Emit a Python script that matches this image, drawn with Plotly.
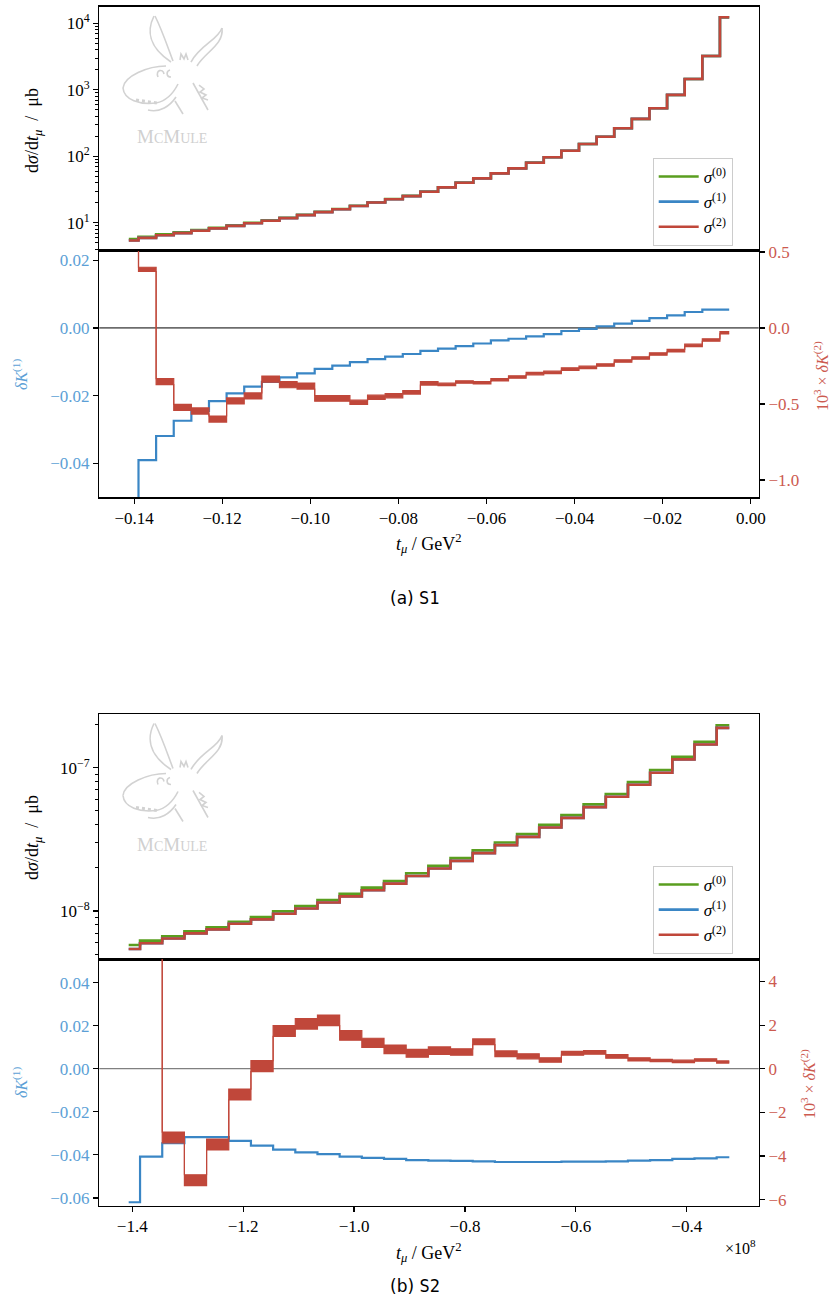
import plotly.graph_objects as go

W, H = 830, 1315

GREEN = "#5a9e1f"
BLUE = "#3a86c5"
RED = "#c0473a"
BLUE_TXT = "#5c9fd6"
RED_TXT = "#cc5a4f"
SERIF = "'Liberation Serif', 'DejaVu Serif', serif"
SANS = "'DejaVu Sans', 'Noto Sans', sans-serif"

# ---------------- (a) S1 ----------------
edges_a = [-0.1412, -0.139, -0.135, -0.131, -0.127, -0.123, -0.119, -0.115, -0.111,
           -0.107, -0.103, -0.099, -0.095, -0.091, -0.087, -0.083, -0.079, -0.075,
           -0.071, -0.067, -0.063, -0.059, -0.055, -0.051, -0.047, -0.043, -0.039,
           -0.035, -0.031, -0.027, -0.023, -0.019, -0.015, -0.011, -0.007, -0.0049]
sig0_a = [5.7, 6.16, 6.68, 7.16, 7.76, 8.41, 9.14, 10.0, 10.9, 11.9, 13.2, 14.6, 16.1,
          18.0, 20.3, 22.7, 25.3, 29.4, 34.2, 40.1, 46.6, 55.5, 66.0, 80.2, 96.6, 121,
          153, 197, 264, 364, 527, 836, 1452, 3222, 12300]
sig1_a = [5.4, 5.92, 6.47, 6.97, 7.57, 8.23, 8.97, 9.83, 10.73, 11.72, 13.03, 14.42, 15.92,
          17.82, 20.12, 22.51, 25.1, 29.2, 34.0, 39.9, 46.4, 55.3, 65.8, 80.0, 96.5, 120.9,
          153, 197, 264, 365, 528, 838, 1456, 3230, 12330]
sig2_a = [5.4, 5.92, 6.47, 6.97, 7.57, 8.23, 8.97, 9.83, 10.73, 11.72, 13.03, 14.42, 15.92,
          17.82, 20.12, 22.51, 25.1, 29.2, 34.0, 39.9, 46.4, 55.3, 65.8, 80.0, 96.5, 120.9,
          153, 197, 264, 365, 528, 838, 1456, 3230, 12330]
dK1_a = [-0.058, -0.0390, -0.0319, -0.0274, -0.0245, -0.0216, -0.0193, -0.0173, -0.0159,
         -0.0146, -0.0134, -0.0121, -0.0111, -0.0101, -0.0092, -0.0085, -0.0077, -0.0068,
         -0.0061, -0.0054, -0.0046, -0.0037, -0.0032, -0.0025, -0.0018, -0.0009, -0.0003,
         0.0005, 0.0013, 0.0021, 0.0029, 0.0037, 0.0047, 0.0054, 0.0054]
dK2_a = [0.8, 0.386, -0.353, -0.522, -0.546, -0.599, -0.480, -0.447, -0.336, -0.373,
         -0.382, -0.463, -0.463, -0.489, -0.456, -0.445, -0.423, -0.364, -0.371, -0.355,
         -0.360, -0.340, -0.322, -0.300, -0.292, -0.270, -0.259, -0.243, -0.217, -0.197,
         -0.171, -0.149, -0.114, -0.079, -0.031]
dK2err_a = [0.02, 0.014, 0.02, 0.02, 0.02, 0.02, 0.02, 0.02, 0.02, 0.02, 0.02, 0.019,
            0.019, 0.014, 0.014, 0.014, 0.0115, 0.0115, 0.008, 0.008, 0.008, 0.008, 0.008,
            0.008, 0.008, 0.008, 0.008, 0.008, 0.008, 0.008, 0.008, 0.008, 0.008, 0.008, 0.008]

# ---------------- (b) S2 (t in units of 1e8 GeV^2) ----------------
edges_b = [-1.4065, -1.386, -1.346, -1.306, -1.266, -1.226, -1.186, -1.146, -1.106, -1.066,
           -1.026, -0.986, -0.946, -0.906, -0.866, -0.826, -0.786, -0.746, -0.706, -0.666,
           -0.626, -0.586, -0.546, -0.506, -0.466, -0.426, -0.386, -0.346, -0.3232]
sig0_b = [5.79e-9, 6.21e-9, 6.66e-9, 7.21e-9, 7.69e-9, 8.42e-9, 9.07e-9, 9.95e-9, 1.084e-8,
          1.194e-8, 1.32e-8, 1.456e-8, 1.62e-8, 1.833e-8, 2.07e-8, 2.34e-8, 2.65e-8, 3.01e-8,
          3.44e-8, 4.00e-8, 4.67e-8, 5.55e-8, 6.55e-8, 7.94e-8, 9.64e-8, 1.194e-7, 1.518e-7,
          1.977e-7]
sig1_b = [5.43e-9, 5.96e-9, 6.43e-9, 6.98e-9, 7.44e-9, 8.14e-9, 8.74e-9, 9.57e-9, 1.042e-8,
          1.146e-8, 1.266e-8, 1.396e-8, 1.552e-8, 1.756e-8, 1.981e-8, 2.239e-8, 2.536e-8,
          2.881e-8, 3.292e-8, 3.828e-8, 4.469e-8, 5.311e-8, 6.268e-8, 7.599e-8, 9.235e-8,
          1.144e-7, 1.454e-7, 1.896e-7]
sig2_b = [5.43e-9, 5.96e-9, 6.43e-9, 6.98e-9, 7.44e-9, 8.14e-9, 8.74e-9, 9.57e-9, 1.042e-8,
          1.146e-8, 1.266e-8, 1.396e-8, 1.552e-8, 1.756e-8, 1.981e-8, 2.239e-8, 2.536e-8,
          2.881e-8, 3.292e-8, 3.828e-8, 4.469e-8, 5.311e-8, 6.268e-8, 7.599e-8, 9.235e-8,
          1.144e-7, 1.454e-7, 1.896e-7]
dK1_b = [-0.0620, -0.0408, -0.0346, -0.0318, -0.0318, -0.0335, -0.0357, -0.0376, -0.0388,
         -0.0397, -0.0408, -0.0414, -0.0419, -0.0424, -0.0427, -0.0428, -0.0430, -0.0433,
         -0.0433, -0.0433, -0.0431, -0.0431, -0.0430, -0.0427, -0.0424, -0.0419, -0.0416,
         -0.0411]
dK2_b = [8.0, 8.0, -3.15, -5.11, -3.47, -1.18, 0.12, 1.73, 2.06, 2.22, 1.53, 1.19, 0.89,
         0.71, 0.83, 0.77, 1.24, 0.69, 0.57, 0.40, 0.71, 0.75, 0.57, 0.43, 0.38, 0.34, 0.40,
         0.31]
dK2err_b = [0.25, 0.25, 0.245, 0.25, 0.25, 0.25, 0.25, 0.245, 0.24, 0.24, 0.22, 0.21, 0.2,
            0.18, 0.17, 0.145, 0.13, 0.13, 0.115, 0.1, 0.085, 0.085, 0.085, 0.07, 0.055,
            0.055, 0.055, 0.05]

fig = go.Figure()


def stepy(v):
    return list(v) + [v[-1]]


def add_block(edges, s0, s1, s2, dk1, dk2, err, xu, yu, xl, yl, yr, leg):
    for vals, col, lab in ((s0, GREEN, "<i>σ</i><sup>(0)</sup>"),
                           (s1, BLUE, "<i>σ</i><sup>(1)</sup>"),
                           (s2, RED, "<i>σ</i><sup>(2)</sup>")):
        fig.add_trace(go.Scatter(x=edges, y=stepy(vals), mode="lines", name=lab,
                                 line=dict(color=col, width=2.6, shape="hv"),
                                 legend=leg, xaxis=xu, yaxis=yu, hoverinfo="skip"))
    fig.add_trace(go.Scatter(x=edges, y=stepy(dk1), mode="lines", showlegend=False,
                             line=dict(color=BLUE, width=2.2, shape="hv"),
                             xaxis=xl, yaxis=yl, hoverinfo="skip"))
    lo = [v - e for v, e in zip(dk2, err)]
    hi = [v + e for v, e in zip(dk2, err)]
    fig.add_trace(go.Scatter(x=edges, y=stepy(lo), mode="lines", showlegend=False,
                             line=dict(color=RED, width=1.2, shape="hv"),
                             xaxis=xl, yaxis=yr, hoverinfo="skip"))
    fig.add_trace(go.Scatter(x=edges, y=stepy(hi), mode="lines", showlegend=False,
                             line=dict(color=RED, width=1.2, shape="hv"),
                             fill="tonexty", fillcolor=RED,
                             xaxis=xl, yaxis=yr, hoverinfo="skip"))


add_block(edges_a, sig0_a, sig1_a, sig2_a, dK1_a, dK2_a, dK2err_a,
          "x", "y", "x2", "y2", "y3", "legend")
add_block(edges_b, sig0_b, sig1_b, sig2_b, dK1_b, dK2_b, dK2err_b,
          "x3", "y4", "x4", "y5", "y6", "legend2")

XD = [99.3 / W, 758.7 / W]


def ydom(top, bot):
    return [1 - bot / H, 1 - top / H]


def base(**kw):
    d = dict(showgrid=False, zeroline=False, showline=True, linecolor="black",
             linewidth=1.3, ticks="outside", tickcolor="black", tickwidth=1.2,
             ticklen=5, tickfont=dict(family=SERIF, size=17, color="black"))
    d.update(kw)
    return d


def minor_log(lo_exp, hi_exp):
    vals = []
    for e in range(lo_exp, hi_exp + 1):
        for m in range(2, 10):
            vals.append(m * 10.0 ** e)
    return dict(tickvals=vals, ticks="outside", ticklen=3, tickwidth=1,
                tickcolor="black", showgrid=False)


xr_a = [-0.1479, 0.0018]
xr_b = [-1.4595, -0.2702]

layout_axes = dict(
    xaxis=base(domain=XD, anchor="y", range=xr_a, showticklabels=False, ticks="",
               mirror=True),
    yaxis=base(domain=ydom(6.7, 250.7), anchor="x", type="log", range=[0.579, 4.25],
               tickvals=[10, 100, 1000, 10000],
               ticktext=["10<sup>1</sup>", "10<sup>2</sup>", "10<sup>3</sup>", "10<sup>4</sup>"],
               minor=minor_log(0, 4), mirror=True),
    xaxis2=base(domain=XD, anchor="y2", range=xr_a,
                tickvals=[-0.14, -0.12, -0.10, -0.08, -0.06, -0.04, -0.02, 0.0],
                tickformat=".2f", mirror=True),
    yaxis2=base(domain=ydom(250.7, 497.3), anchor="x2", range=[-0.0500, 0.0228],
                tickvals=[0.02, 0.0, -0.02, -0.04], tickformat=".2f",
                tickfont=dict(family=SERIF, size=17, color=BLUE_TXT), mirror=True),
    yaxis3=base(overlaying="y2", side="right", anchor="x2", range=[-1.114, 0.509],
                tickvals=[0.5, 0.0, -0.5, -1.0], tickformat=".1f",
                tickfont=dict(family=SERIF, size=17, color=RED_TXT)),
    xaxis3=base(domain=XD, anchor="y4", range=xr_b, showticklabels=False, ticks="",
                mirror=True),
    yaxis4=base(domain=ydom(714, 959.3), anchor="x3", type="log", range=[-8.337, -6.625],
                tickvals=[1e-8, 1e-7],
                ticktext=["10<sup>−8</sup>", "10<sup>−7</sup>"],
                minor=minor_log(-9, -7), mirror=True),
    xaxis4=base(domain=XD, anchor="y5", range=xr_b,
                tickvals=[-1.4, -1.2, -1.0, -0.8, -0.6, -0.4], tickformat=".1f",
                mirror=True),
    yaxis5=base(domain=ydom(959.3, 1205.7), anchor="x4", range=[-0.0636, 0.0508],
                tickvals=[0.04, 0.02, 0.0, -0.02, -0.04, -0.06], tickformat=".2f",
                tickfont=dict(family=SERIF, size=17, color=BLUE_TXT), mirror=True),
    yaxis6=base(overlaying="y5", side="right", anchor="x4", range=[-6.28, 5.02],
                tickvals=[4, 2, 0, -2, -4, -6], tickformat="d",
                tickfont=dict(family=SERIF, size=17, color=RED_TXT)),
)

legend_common = dict(xanchor="left", yanchor="top", bgcolor="rgba(255,255,255,0.85)",
                     bordercolor="#cccccc", borderwidth=1, traceorder="normal",
                     font=dict(family=SERIF, size=17, color="black"),
                     tracegroupgap=0, itemwidth=40)

fig.update_layout(
    width=W, height=H, margin=dict(l=0, r=0, t=0, b=0),
    paper_bgcolor="white", plot_bgcolor="white", template="none",
    showlegend=True,
    legend=dict(x=652.7 / W, y=1 - 158 / H, **legend_common),
    legend2=dict(x=652.7 / W, y=1 - 866 / H, **legend_common),
    **layout_axes,
)

# zero lines in ratio panels
fig.add_shape(type="line", xref="x2 domain", x0=0, x1=1, yref="y2", y0=0, y1=0,
              line=dict(color="black", width=1), layer="below")
fig.add_shape(type="line", xref="x4 domain", x0=0, x1=1, yref="y5", y0=0, y1=0,
              line=dict(color="#808080", width=1.3), layer="below")


def ann(x, y, text, color="black", size=17, angle=0, xanchor="center", family=SERIF):
    fig.add_annotation(x=x / W, y=1 - y / H, xref="paper", yref="paper", text=text,
                       showarrow=False, textangle=angle, xanchor=xanchor, yanchor="middle",
                       font=dict(family=family, size=size, color=color))


ytitle = "d<i>σ</i>/d<i>t</i><sub><i>μ</i></sub>  /  μb"
xtitle = "<i>t</i><sub><i>μ</i></sub> / GeV<sup>2</sup>"
k1 = "<i>δK</i><sup>(1)</sup>"
k2 = "10<sup>3</sup> × <i>δK</i><sup>(2)</sup>"

ann(33, 131, ytitle, size=18, angle=-90)
ann(20, 375, k1, color=BLUE_TXT, size=16, angle=-90)
ann(821, 376, k2, color=RED_TXT, size=16, angle=-90)
ann(429, 543, xtitle, size=18)
ann(415, 598, "(a) <span style=\"font-family:'DejaVu Sans Mono'\">S1</span>",
    size=17, family=SANS)

ann(33, 838, ytitle, size=18, angle=-90)
ann(20, 1083, k1, color=BLUE_TXT, size=16, angle=-90)
ann(808, 1084, k2, color=RED_TXT, size=16, angle=-90)
ann(429, 1252, xtitle, size=18)
ann(758, 1247, "×10<sup>8</sup>", size=16, xanchor="right")
ann(415, 1286, "(b) <span style=\"font-family:'DejaVu Sans Mono'\">S2</span>",
    size=17, family=SANS)

# McMule logo (decorative, grey)
LOGO = "#d2d2d2"
logo_paths = [
    [("M", (154, 16)), ("C", (147, 30), (148, 47), (171, 62))],
    [("M", (155, 16)), ("C", (162, 30), (167, 45), (173, 61))],
    [("M", (222, 28)), ("C", (218, 40), (200, 45), (191, 62))],
    [("M", (222, 28)), ("C", (224, 45), (205, 52), (197, 66))],
    [("M", (166, 66)), ("C", (148, 66), (124, 76), (123, 88))],
    [("M", (123, 88)), ("C", (124, 100), (140, 105), (156, 103)),
     ("C", (166, 101), (173, 94), (178, 84))],
    [("M", (148, 110)), ("C", (160, 113), (170, 106), (176, 97))],
    [("M", (158, 77)), ("C", (155, 70), (163, 68), (164, 74))],
    [("M", (170, 70)), ("C", (166, 71), (166, 77), (171, 77))],
    [("M", (180, 60)), ("L", (181, 54)), ("L", (184, 59)), ("L", (186, 54)), ("L", (188, 60))],
    [("M", (175, 101)), ("L", (183, 114))],
    [("M", (193, 83)), ("L", (208, 110))],
    [("M", (199, 85)), ("L", (204, 89)), ("L", (200, 92)), ("L", (206, 95)),
     ("L", (202, 98)), ("L", (208, 100))],
]


def to_path(cmds, dy):
    out = []
    for c in cmds:
        pts = " ".join(f"{p[0] / W:.5f},{1 - (p[1] + dy) / H:.5f}" for p in c[1:])
        out.append(c[0] + pts)
    return " ".join(out)


for dy in (0, 707.5):
    for cmds in logo_paths:
        fig.add_shape(type="path", xref="paper", yref="paper", path=to_path(cmds, dy),
                      line=dict(color=LOGO, width=1.6))
    fig.add_shape(type="path", xref="paper", yref="paper",
                  path=to_path([("M", (136, 100)), ("L", (157, 103))], dy),
                  line=dict(color=LOGO, width=3, dash="dot"))
    ann(172, 137 + dy,
        "M<span style='font-size:14px'>C</span>M<span style='font-size:14px'>ULE</span>",
        color="#d0d0d0", size=19)

fig.write_html("out.html",
               config={"displayModeBar": False, "staticPlot": True},
               post_script="document.body.style.margin='0';"
                           "document.body.style.overflow='hidden';")
